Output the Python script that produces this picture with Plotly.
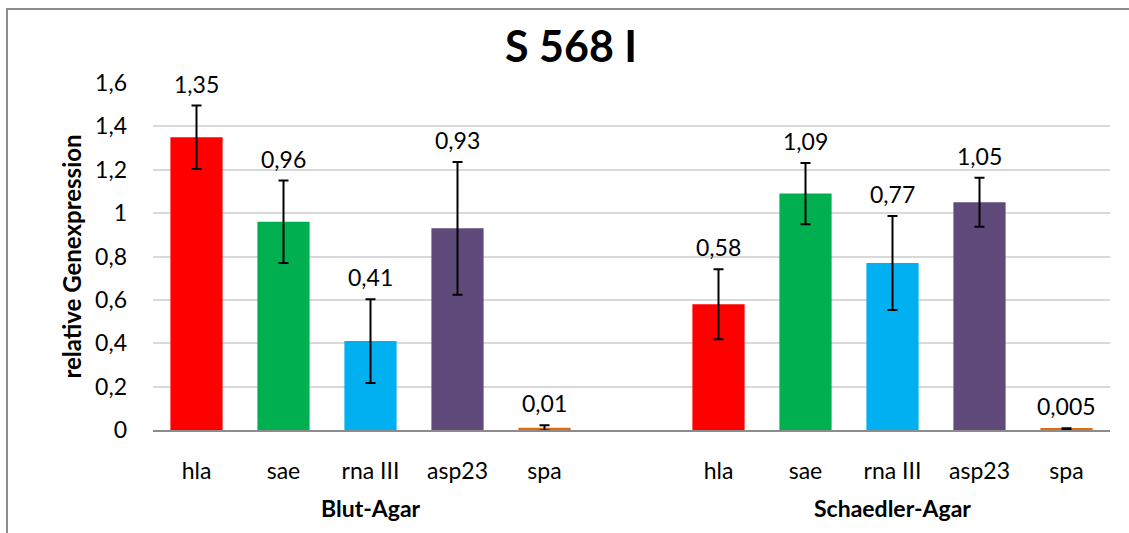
import plotly.graph_objects as go

# Gene expression data, two culture media
genes = ["hla", "sae", "rna III", "asp23", "spa"]
media = ["Blut-Agar", "Schaedler-Agar"]
blut_values = [1.35, 0.96, 0.41, 0.93, 0.01]
blut_errors = [0.146, 0.19, 0.193, 0.306, 0.012]
schaedler_values = [0.58, 1.09, 0.77, 1.05, 0.005]
schaedler_errors = [0.161, 0.141, 0.217, 0.113, 0.003]
value_labels_blut = ["1,35", "0,96", "0,41", "0,93", "0,01"]
value_labels_schaedler = ["0,58", "1,09", "0,77", "1,05", "0,005"]
bar_colors = ["#ff0000", "#00b050", "#00b0f0", "#604a7b", "#e36c09"]
y_tick_vals = [0, 0.2, 0.4, 0.6, 0.8, 1.0, 1.2, 1.4, 1.6]
y_tick_text = ["0", "0,2", "0,4", "0,6", "0,8", "1", "1,2", "1,4", "1,6"]

FONT = "Lato, 'Open Sans', sans-serif"

# slot positions: 5 genes, an empty gap slot, then 5 genes
n = len(genes)
x_blut = list(range(n))
x_schaedler = [i + n + 1 for i in range(n)]

xs = x_blut + x_schaedler
ys = blut_values + schaedler_values
errs = blut_errors + schaedler_errors
labels = value_labels_blut + value_labels_schaedler
colors = bar_colors + bar_colors

fig = go.Figure()
fig.add_trace(go.Bar(
    x=xs, y=ys, width=0.6,
    marker=dict(color=colors, line=dict(width=0)),
    error_y=dict(type="data", array=errs, visible=True,
                 color="black", thickness=2, width=5),
    showlegend=False, hoverinfo="skip",
))

# value labels above the error bar caps
for x, y, e, t in zip(xs, ys, errs, labels):
    fig.add_annotation(x=x, y=y + e, text=t, showarrow=False,
                       yanchor="bottom", yshift=6,
                       font=dict(family=FONT, size=23, color="black"))

# group labels below the gene labels
for name, pos in zip(media, [x_blut, x_schaedler]):
    fig.add_annotation(x=sum(pos) / len(pos), y=0, yref="y", text="<b>" + name + "</b>",
                       showarrow=False, yanchor="middle", yshift=-78,
                       font=dict(family=FONT, size=23, color="black"))

# outer chart border
fig.add_shape(type="rect", xref="paper", yref="paper",
              x0=(7 - 153) / 957, x1=1.05, y0=-0.5, y1=(430 - 9) / 347,
              line=dict(color="#8c8c8c", width=2), layer="above")

fig.update_layout(
    width=1129, height=533,
    margin=dict(l=153, r=19, t=83, b=103),
    paper_bgcolor="white", plot_bgcolor="white",
    title=dict(text="<b>S 568 I</b>", x=571 / 1129, xanchor="center",
               y=1 - 47 / 533, yanchor="middle",
               font=dict(family=FONT, size=43, color="black")),
    font=dict(family=FONT, color="black"),
    bargap=0.4,
)
fig.update_xaxes(
    range=[-0.5, 2 * n + 0.5],
    tickvals=xs, ticktext=genes + genes,
    tickfont=dict(family=FONT, size=23, color="black"),
    showgrid=False, zeroline=False,
    showline=True, linecolor="#8c8c8c", linewidth=2,
    ticks="", ticklabelstandoff=19,
)
fig.update_yaxes(
    range=[0, 1.6],
    tickvals=y_tick_vals, ticktext=y_tick_text,
    tickfont=dict(family=FONT, size=23, color="black"),
    showgrid=True, gridcolor="#d9d9d9", gridwidth=2,
    zeroline=False, showline=False, ticks="", ticklabelstandoff=25,
    title=dict(text="<b>relative Genexpression</b>", standoff=6,
               font=dict(family=FONT, size=24, color="black")),
)

fig.write_html("out.html")
